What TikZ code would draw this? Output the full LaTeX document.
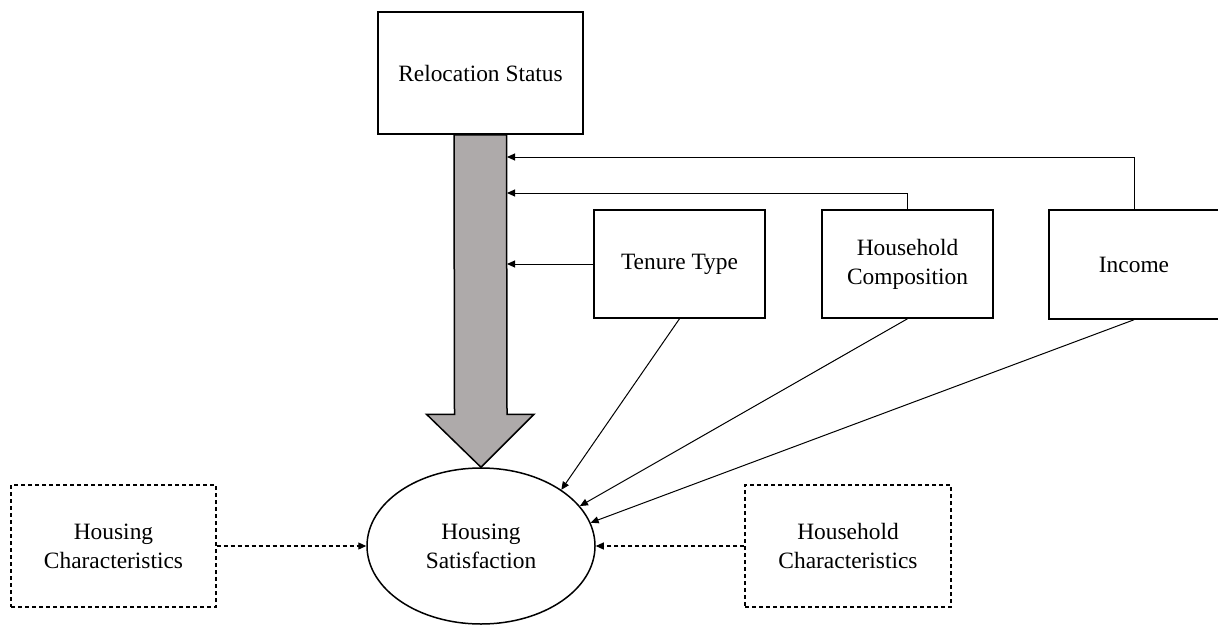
\documentclass[tikz,border=0pt]{standalone}
\usepackage{fontspec}
\setmainfont{Liberation Serif}
\usetikzlibrary{arrows.meta,shapes.geometric,calc}
\definecolor{shaftgray}{RGB}{174,170,170}
\begin{document}
\begin{tikzpicture}[x=0.5pt,y=-0.5pt,
  every node/.style={font=\fontsize{11.7}{14.5}\selectfont, align=center, inner sep=0pt},
  box/.style={draw, line width=0.75pt, rectangle, minimum width=#1},
  box/.default=85.5pt,
  dbox/.style={draw, line width=0.7pt, dash pattern=on 2pt off 1.5pt, rectangle, minimum width=102.5pt, minimum height=61pt},
  conn/.style={line width=0.5pt, -{Triangle[length=4pt,width=3.5pt]}},
  dconn/.style={line width=0.6pt, dash pattern=on 2pt off 1.5pt, -{Triangle[length=4pt,width=3.5pt]}}
]
\useasboundingbox (0,0) rectangle (1218,626);
\fill[white] (0,0) rectangle (1218,626);

\node[box=102.5pt, minimum height=61pt] (rs) at (480.5,73) {Relocation Status};
\node[box, minimum height=54pt] (tt) at (679.5,264) {Tenure Type};
\node[box, minimum height=54pt] (hc) at (907.5,264) {Household\\Composition};
\node[box=85pt, minimum height=54.5pt] (inc) at (1134,264.5) {Income};
\node[dbox] (hchar) at (113.5,546) {Housing\\Characteristics};
\node[dbox, minimum width=103pt] (hhchar) at (848,546) {Household\\Characteristics};
\node[draw, line width=0.75pt, ellipse, minimum width=114pt, minimum height=78pt] (hs) at (481,546) {Housing\\Satisfaction};

% big arrow
\draw[line width=0.75pt, fill=shaftgray]
  ($(rs.south)+(-26.5,0)$) -- ($(hs.north)+(-26.5,-53)$) -- ($(hs.north)+(-54.5,-53)$)
  -- (hs.north) -- ($(hs.north)+(53,-53)$) -- ($(hs.north)+(26,-53)$) -- ($(rs.south)+(26,0)$) -- cycle;

\coordinate (t1) at (507,157);
\coordinate (t2) at (507,193);
\coordinate (t3) at (507,264);
\draw[conn] (inc.north) |- (t1);
\draw[conn] (hc.north) |- (t2);
\draw[conn] (tt.west) -- (t3);

\draw[conn] (tt.south) -- (hs.35);
\draw[conn] (hc.south) -- (hs.22);
\draw[conn] (inc.south) -- (hs.12);

\draw[dconn] (hchar.east) -- (hs.west);
\draw[dconn] (hhchar.west) -- (hs.east);
\end{tikzpicture}
\end{document}
